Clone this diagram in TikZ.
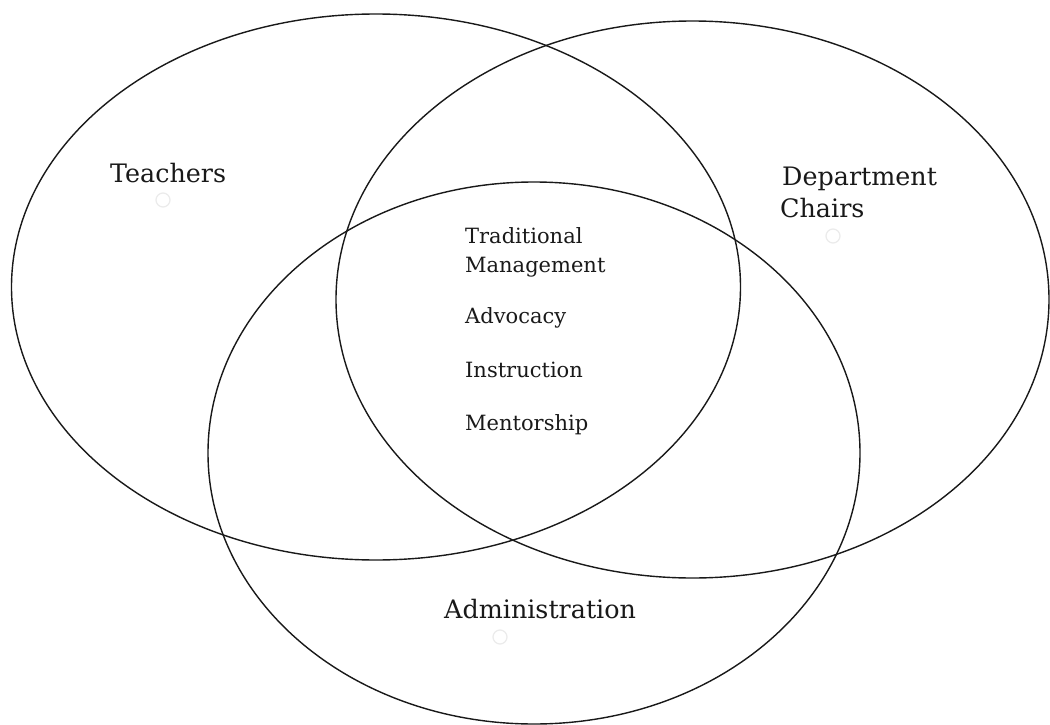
\documentclass[tikz,border=0pt]{standalone}
\usepackage{fontspec}
\setmainfont{DejaVu Serif}
\begin{document}
\begin{tikzpicture}[x=1pt,y=-1pt,
  ring/.style={draw=black!90, line width=1.4pt},
  biglabel/.style={inner sep=0pt, anchor=base west, font=\fontsize{25.4}{30}\selectfont, text=black!90},
  smalllabel/.style={inner sep=0pt, anchor=base west, font=\fontsize{21}{29}\selectfont, text=black!90},
  ghost/.style={draw=black!8, line width=1.2pt}]
\useasboundingbox (0,0) rectangle (1050,725);
\fill[white] (0,0) rectangle (1050,725);
% ellipses
\draw[ring] (376,287) ellipse [x radius=364.5, y radius=273];
\draw[ring] (692.5,299.5) ellipse [x radius=356.5, y radius=278.5];
\draw[ring] (534,453) ellipse [x radius=326, y radius=271];
% faint markers
\draw[ghost] (163,200) circle (7);
\draw[ghost] (833,236) circle (7);
\draw[ghost] (500,637) circle (7);
% labels
\node[biglabel] (teachers) at (110,182) {Teachers};
\node[biglabel] (dept) at (782,185) {Department};
\node[biglabel] (chairs) at (780,217) {Chairs};
\node[biglabel] (admin) at (444,618) {Administration};
\node[smalllabel] (trad) at (465,243) {Traditional};
\node[smalllabel] (mgmt) at (465,272) {Management};
\node[smalllabel] (adv) at (465,323) {Advocacy};
\node[smalllabel] (instr) at (465,377) {Instruction};
\node[smalllabel] (ment) at (465,430) {Mentorship};
\end{tikzpicture}
\end{document}
